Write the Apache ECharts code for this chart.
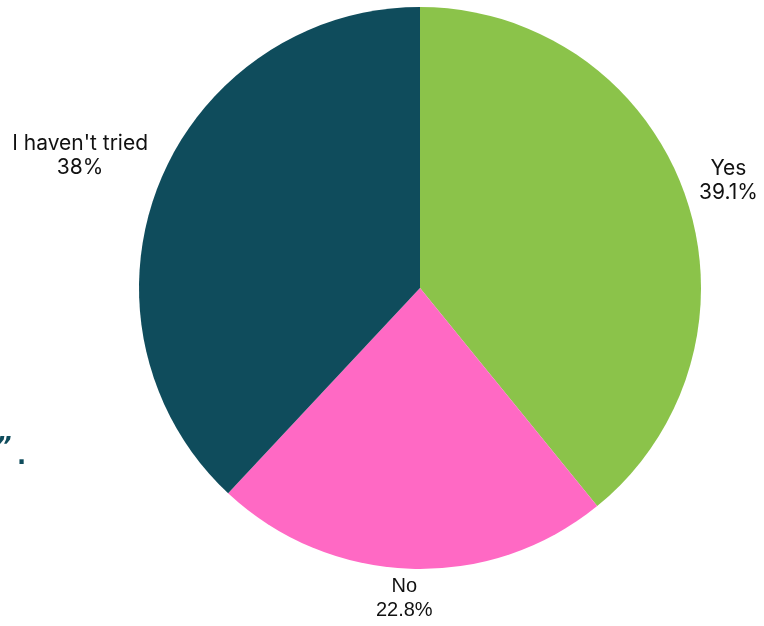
<!DOCTYPE html>
<html><head><meta charset="utf-8">
<script src="https://cdn.jsdelivr.net/npm/echarts@6/dist/echarts.min.js"></script>
<style>html,body{margin:0;padding:0;background:#fff}#c{width:764px;height:626px}</style>
</head><body><div id="c"></div>
<script>
const categories = ["Yes", "No", "I haven't tried"];
const values = [39.1, 22.8, 38];
const colors = ["#8BC34A", "#FF69C4", "#0F4C5C"];
const labelLineLengths = [41, 30, 79];

const chart = echarts.init(document.getElementById('c'));
chart.setOption({
  animation: false,
  color: colors,
  graphic: [{
    type: 'text', x: -4, y: 436,
    style: { text: '”', fill: '#0F4C5C', font: 'italic bold 24px "DejaVu Sans"' }
  }, {
    type: 'text', x: 17, y: 446,
    style: { text: '.', fill: '#0F4C5C', font: 'bold 24px "DejaVu Sans"' }
  }],
  series: [{
    type: 'pie',
    center: [420, 288],
    radius: 281,
    startAngle: 90,
    clockwise: true,
    data: categories.map((n, i) => ({
      name: n, value: values[i],
      labelLine: { length: labelLineLengths[i], length2: 0, show: false },
      label: i === 1 ? { fontFamily: '"Liberation Sans", Arial, sans-serif', fontSize: 20 } : {}
    })),
    label: {
      show: true,
      position: 'outside',
      formatter: p => p.name + '\n' + p.value + '%',
      color: '#111',
      fontSize: 21,
      lineHeight: 24,
      overflow: 'none',
      fontFamily: 'Inter, "Noto Sans", sans-serif'
    },
    labelLayout: { align: 'center' },
    labelLine: { show: false }
  }]
});
</script></body></html>
